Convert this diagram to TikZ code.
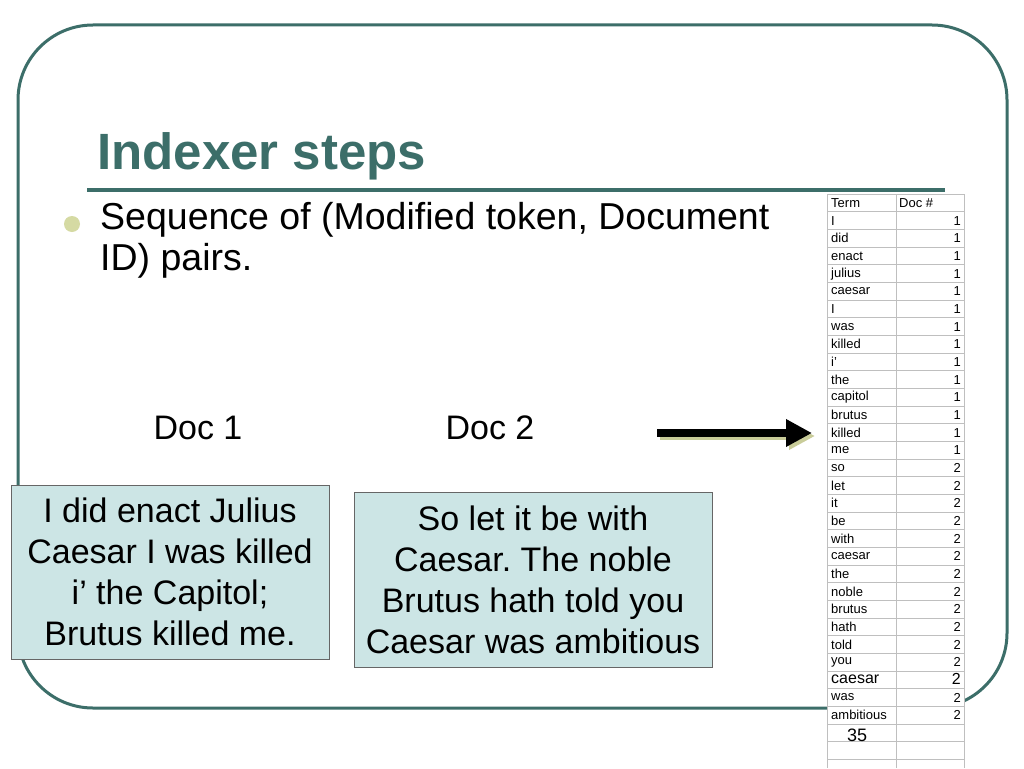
\documentclass[tikz,border=0pt]{standalone}
\usepackage{fontspec}
\setmainfont{Liberation Sans}
\usetikzlibrary{arrows.meta}
\frenchspacing
\definecolor{frameteal}{HTML}{3C6E69}
\definecolor{docfill}{HTML}{CCE5E5}
\definecolor{bulletolive}{HTML}{D5DAA3}
\definecolor{shadowolive}{HTML}{C9CC99}
\newcommand\apos{\symbol{39}}
\tikzset{
  docbox/.style={draw=black!60, fill=docfill, line width=.8pt, align=center,
    font=\fontsize{34}{41}\selectfont, inner sep=0pt},
  cellline/.style={draw=black!25, line width=.6pt},
  termtext/.style={anchor=west, font=\fontsize{13}{14}\selectfont, inner sep=0pt},
  doctext/.style={anchor=east, font=\fontsize{13}{14}\selectfont, inner sep=0pt},
}
\begin{document}
\begin{tikzpicture}[x=1pt,y=-1pt]
\useasboundingbox (0,0) rectangle (1024,768);
\fill[white] (0,0) rectangle (1024,768);

% slide frame and title
\draw[frameteal, line width=3pt, rounded corners=75pt] (18,25) rectangle (1007,708);
\node[anchor=west, text=frameteal, font=\fontsize{51}{56}\bfseries\selectfont, inner sep=0pt] (title) at (97,156) {Indexer steps};
\draw[frameteal, line width=4pt] (87,190) -- (945,190);
\fill[bulletolive] (72,224) circle (8);
\node[anchor=north west, align=left, font=\fontsize{37.5}{41}\selectfont, inner sep=0pt] (bullet) at (100,202)
  {Sequence of (Modified token, Document\\ID) pairs.};

% the two documents
\node[font=\fontsize{34}{36}\selectfont] (doca) at (198,428) {Doc 1};
\node[font=\fontsize{34}{36}\selectfont] (docb) at (490,428) {Doc 2};
\node[docbox, minimum width=318pt, minimum height=174pt] (texta) at (170,572)
  {I did enact Julius\\Caesar I was killed\\i\apos{} the Capitol;\\Brutus killed me.};
\node[docbox, minimum width=358pt, minimum height=175pt] (textb) at (533,580)
  {So let it be with\\Caesar. The noble\\Brutus hath told you\\Caesar was ambitious};

% arrow with shadow
\coordinate (arrs) at (657,433);
\coordinate (arre) at (812,433);
\draw[shadowolive, line width=8pt, -{Triangle[length=26pt,width=26pt]}] ([shift={(3,3)}]arrs) -- ([shift={(3,3)}]arre);
\draw[black, line width=8pt, -{Triangle[length=26pt,width=26pt]}] (arrs) -- (arre);

% term table
\fill[white] (827,194) rectangle (964,768);
\foreach \i in {0,...,33} {
  \draw[cellline] (827,194+\i*17.66) -- (964,194+\i*17.66);
}
\draw[cellline] (827,194) -- (827,768);
\draw[cellline] (896,194) -- (896,768);
\draw[cellline] (964,194) -- (964,768);
\node[termtext] (hterm) at (831,203) {Term};
\node[termtext] (hdoc) at (899,203) {Doc \#};
\foreach \t/\d [count=\i] in {I/1,did/1,enact/1,julius/1,caesar/1,I/1,was/1,killed/1,i\apos/1,the/1,
  capitol/1,brutus/1,killed/1,me/1,so/2,let/2,it/2,be/2,with/2,caesar/2,the/2,noble/2,
  brutus/2,hath/2,told/2,you/2,{}/{},was/2,ambitious/2} {
  \node[termtext] at (831,203+\i*17.66) {\t};
  \node[doctext] at (961,203+\i*17.66) {\d};
}
\node[termtext, font=\fontsize{16}{18}\selectfont] (bigterm) at (831,679) {caesar};
\node[doctext, font=\fontsize{16}{18}\selectfont] (bigdoc) at (961,679) {2};
\node[font=\fontsize{18}{20}\selectfont] (pagenum) at (857,735) {35};
\end{tikzpicture}
\end{document}
